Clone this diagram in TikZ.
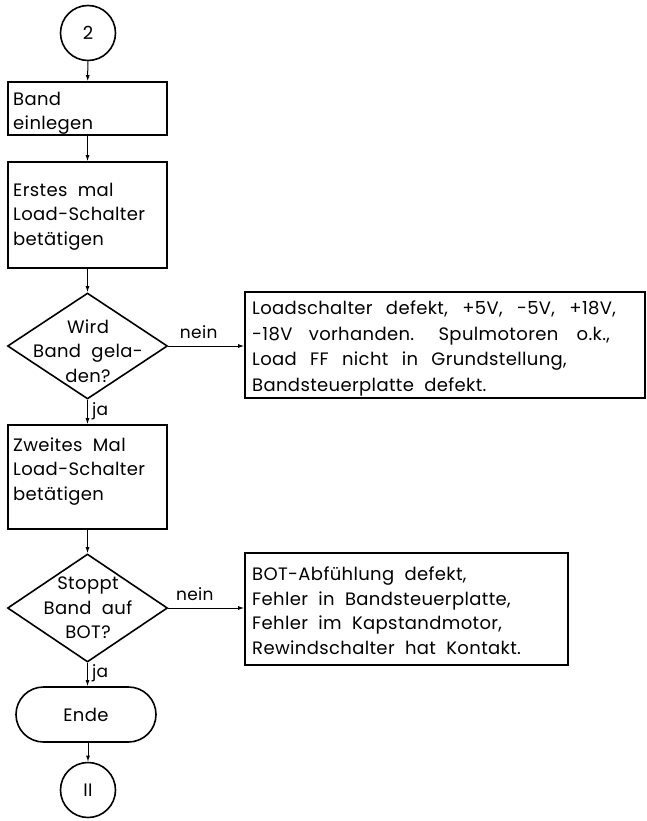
\documentclass[tikz,border=0pt]{standalone}
\usepackage{fontspec}
\setmainfont{Poppins}[LetterSpace=2,WordSpace=2]
\usetikzlibrary{shapes.geometric,shapes.misc,arrows.meta}
\newcommand{\wsp}[1]{\hspace{#1pt}\ }
\begin{document}
\begin{tikzpicture}[x=1pt,y=-1pt,
  every node/.style={font=\fontsize{18}{24.5}\selectfont, inner sep=0pt},
  box/.style={draw, line width=1.6pt, rectangle, minimum width=159pt},
  dia/.style={draw, line width=1.6pt, diamond, minimum width=160pt, minimum height=106pt},
  term/.style={draw, line width=1.6pt, rounded rectangle, minimum width=140pt, minimum height=55pt},
  conn/.style={draw, line width=1.6pt, circle, minimum size=55pt},
  txt/.style={anchor=base west, align=left},
  flow/.style={line width=1pt, -{Latex[length=6pt,width=4pt]}},
  lab/.style={font=\fontsize{17}{18}\selectfont}]
\useasboundingbox (0,0) rectangle (647,821);
% nodes
\node[conn] (c2) at (88,33) {2};
\node[box, minimum height=53pt] (b1) at (87.5,108.5) {};
\node[txt] (b1t) at (13,130) {Band\\einlegen};
\node[box, minimum height=106pt] (b2) at (87.5,215) {};
\node[txt] (b2t) at (13,245) {Erstes mal\\Load-Schalter\\betätigen};
\node[dia] (d1) at (87.5,346) {};
\node[align=center] (d1t) at (88,351) {Wird\hspace{16pt}\\Band gela-\\den?};
\node[box, minimum width=400pt, minimum height=106pt] (r1) at (445,345) {};
\node[txt, font=\fontsize{18}{25.5}\selectfont] (r1t) at (252,391) {Loadschalter\wsp{3}defekt,\wsp{4}+5V,\wsp{4}-5V,\wsp{4}+18V,\\-18V\wsp{6}vorhanden.\wsp{14}Spulmotoren\wsp{8}o.k.,\\Load\wsp{3}FF\wsp{3}nicht\wsp{3}in\wsp{3}Grundstellung,\\Bandsteuerplatte defekt.};
\node[box, minimum height=104pt] (b3) at (87.5,477) {};
\node[txt] (b3t) at (13,500) {Zweites Mal\\Load-Schalter\\betätigen};
\node[dia, minimum height=108pt] (d2) at (87.5,608) {};
\node[align=center] (d2t) at (88,608) {Stoppt\hspace{18pt}\\Band auf\\BOT?\hspace{4pt}};
\node[box, minimum width=323pt, minimum height=112pt] (r2) at (406.5,609) {};
\node[txt] (r2t) at (252,654) {BOT-Abfühlung defekt,\\Fehler in Bandsteuerplatte,\\Fehler im Kapstandmotor,\\Rewindschalter hat Kontakt.};
\node[term] (ende) at (86,714.5) {Ende};
\node[conn] (c11) at (88,790) {II};
% connectors
\draw[flow] (c2) -- (b1);
\draw[flow] (b1) -- (b2);
\draw[flow] (b2) -- (d1);
\draw[flow] (d1.east) -- (r1.west |- d1.east) node[lab, pos=0.4, above=7pt] (n1) {nein};
\draw[flow] (d1.south) -- (b3.north) node[lab, pos=0.45, right=4pt] (j1) {ja};
\draw[flow] (b3) -- (d2);
\draw[flow] (d2.east) -- (r2.west |- d2.east) node[lab, pos=0.35, above=7pt] (n2) {nein};
\draw[flow] (d2.south) -- (d2.south |- ende.north) node[lab, pos=0.45, right=4pt] (j2) {ja};
\draw[flow] (ende.south -| c11.north) -- (c11.north);
\end{tikzpicture}
\end{document}
